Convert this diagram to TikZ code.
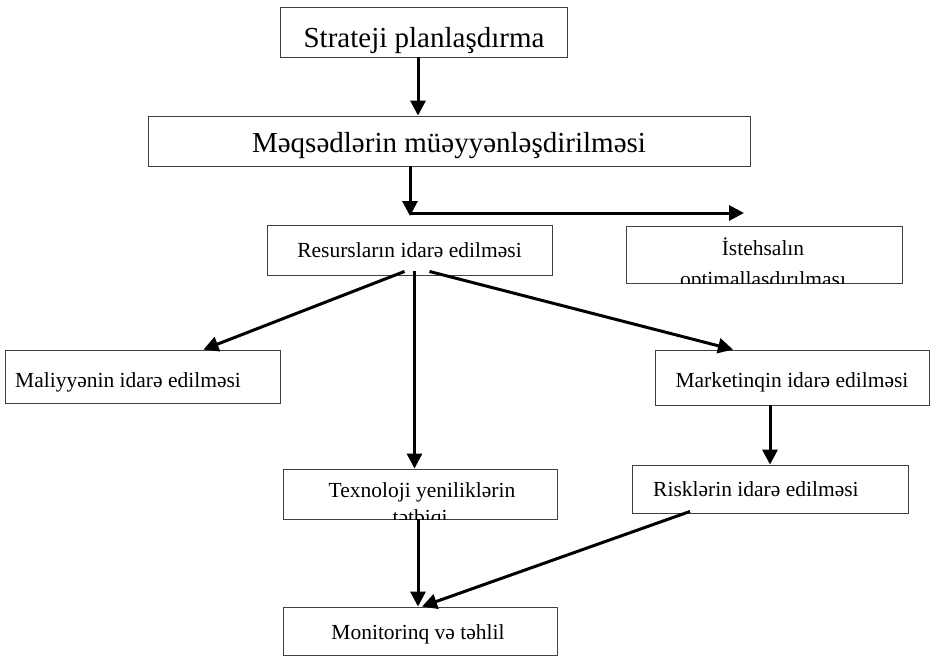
\documentclass[tikz,border=0pt]{standalone}
\usepackage{fontspec}
\setmainfont{Liberation Serif}
\usetikzlibrary{arrows.meta}
\tikzset{
  box/.style={draw=black!75, line width=0.9pt, rectangle, inner sep=0pt, fill=white},
  bigtxt/.style={font=\fontsize{29}{33}\selectfont, inner sep=0pt, anchor=base},
  smalltxt/.style={font=\fontsize{21.5}{25}\selectfont, inner sep=0pt, anchor=base},
  arr/.style={line width=3pt, -{Triangle[length=15pt,width=15pt]}},
}
\begin{document}
\begin{tikzpicture}[x=1pt,y=-1pt]
\useasboundingbox[fill=white] (0,0) rectangle (931,657);
% boxes
\node[box, minimum width=287pt, minimum height=50pt] (s1) at (423.5,32) {};
\node[bigtxt] at (424,47) {Strateji planlaşdırma};
\node[box, minimum width=602pt, minimum height=50pt] (s2) at (449,141) {};
\node[bigtxt] at (449,152) {Məqsədlərin müəyyənləşdirilməsi};
\node[box, minimum width=285pt, minimum height=50pt] (res) at (409.5,250) {};
\node[smalltxt] at (409.5,257) {Resursların idarə edilməsi};
\node[box, minimum width=276pt, minimum height=57pt] (ist) at (764,254.5) {};
\begin{scope}
\clip (ist.south west) rectangle (ist.north east);
\node[smalltxt] at (763,255) {İstehsalın};
\node[smalltxt] at (763,286) {optimallaşdırılması};
\end{scope}
\node[box, minimum width=275pt, minimum height=53pt] (mal) at (142.5,376.5) {};
\node[smalltxt, anchor=base west] at (15,387) {Maliyyənin idarə edilməsi};
\node[box, minimum width=274pt, minimum height=55pt] (mar) at (792,377.5) {};
\node[smalltxt] at (792,387) {Marketinqin idarə edilməsi};
\node[box, minimum width=274pt, minimum height=50pt] (tex) at (420,494) {};
\begin{scope}
\clip (tex.south west) rectangle (tex.north east);
\node[smalltxt] at (422,497) {Texnoloji yeniliklərin};
\node[smalltxt] at (420,524) {tətbiqi};
\end{scope}
\node[box, minimum width=276pt, minimum height=48pt] (risk) at (770,489) {};
\node[smalltxt, anchor=base west] at (653,496) {Risklərin idarə edilməsi};
\node[box, minimum width=274pt, minimum height=48pt] (mon) at (420,631) {};
\node[smalltxt] at (418,639) {Monitorinq və təhlil};
% free ends
\coordinate (c1) at (410,216);
\coordinate (c2) at (410,213);
\coordinate (c3) at (744,213);
% connectors
\draw[arr] (s1.south -| 418,0) -- (s2.north -| 418,0);
\draw[arr] (s2.south -| c1) -- (c1);
\draw[arr] (c2) -- (c3);
\draw[arr] ([xshift=-5pt,yshift=4pt]res.south) -- ([xshift=-77pt]mal.north east);
\draw[arr] ([xshift=5pt,yshift=4pt]res.south) -- ([xshift=5pt]res.south |- tex.north);
\draw[arr] ([xshift=20pt,yshift=4pt]res.south) -- ([xshift=-59pt]mar.north);
\draw[arr] ([xshift=-22pt]mar.south) -- ([xshift=-22pt]mar.south |- risk.north);
\draw[arr] ([xshift=-2pt]tex.south) -- ([xshift=-2pt]tex.south |- mon.north);
\draw[arr] ([xshift=-80pt,yshift=2pt]risk.south) -- ([xshift=2pt]mon.north);
\end{tikzpicture}
\end{document}
